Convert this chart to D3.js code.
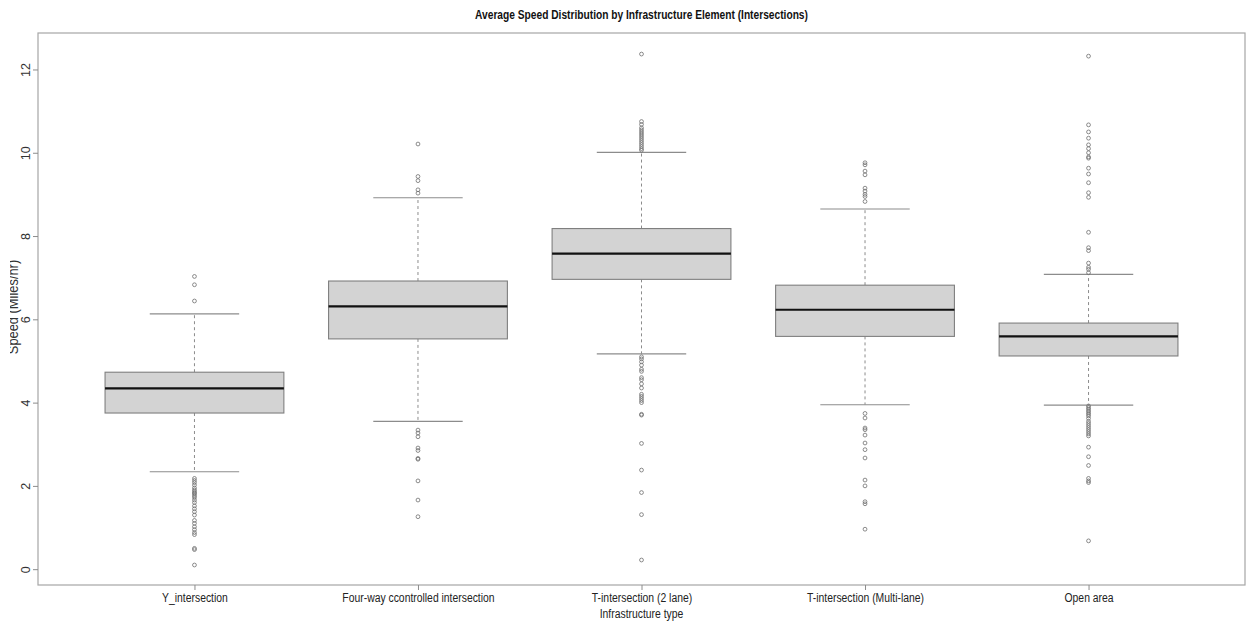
<!DOCTYPE html>
<html>
<head>
<meta charset="utf-8">
<script src="https://cdn.jsdelivr.net/npm/d3@7/dist/d3.min.js"></script>
<style>
  html, body { margin: 0; padding: 0; background: #fff; }
  svg { display: block; }
  text { font-family: "Liberation Sans", Arial, sans-serif; fill: #222; }
</style>
</head>
<body>
<svg id="chart" width="1248" height="628"></svg>
<script>
// Box-plot summary per infrastructure type (speed in miles/hr)
const categories = ["Y_intersection", "Four-way ccontrolled intersection", "T-intersection (2 lane)", "T-intersection (Multi-lane)", "Open area"];
const whiskerLow  = [2.34, 3.55, 5.17, 3.95, 3.94];
const q1          = [3.75, 5.53, 6.96, 5.59, 5.12];
const median      = [4.34, 6.31, 7.58, 6.23, 5.59];
const q3          = [4.73, 6.92, 8.18, 6.82, 5.91];
const whiskerHigh = [6.13, 8.92, 10.01, 8.65, 7.08];

// Points beyond the whiskers
const outliersY = [7.03, 6.83, 6.44, 2.18, 2.13, 2.08, 2.02, 1.95, 1.90, 1.86, 1.83, 1.80, 1.76, 1.72, 1.66, 1.60, 1.52, 1.45, 1.38, 1.30, 1.17, 1.10, 1.02, 0.95, 0.88, 0.83, 0.50, 0.47, 0.10];
const outliersFourWay = [10.21, 9.43, 9.33, 9.11, 9.03, 3.34, 3.27, 3.18, 2.91, 2.85, 2.66, 2.64, 2.12, 1.66, 1.26];
const outliersT2 = [12.37, 10.75, 10.68, 10.60, 10.55, 10.50, 10.45, 10.40, 10.35, 10.30, 10.25, 10.20, 10.15, 10.10, 10.06,
  5.10, 5.05, 4.98, 4.90, 4.80, 4.75, 4.60, 4.55, 4.45, 4.35, 4.20, 4.15, 4.10, 4.05, 4.00, 3.72, 3.70, 3.02, 2.38, 1.84, 1.31, 0.22];
const outliersTMulti = [9.76, 9.71, 9.56, 9.47, 9.15, 9.08, 9.00, 8.95, 8.83, 3.74, 3.63, 3.39, 3.35, 3.22, 3.03, 2.87, 2.67, 2.14, 2.00, 1.62, 1.57, 0.96];
const outliersOpen = [12.32, 10.67, 10.50, 10.35, 10.19, 10.10, 10.00, 9.90, 9.87, 9.63, 9.49, 9.28, 9.04, 8.93, 8.09, 7.72, 7.65, 7.35, 7.25, 7.20, 7.12,
  3.92, 3.88, 3.84, 3.80, 3.76, 3.72, 3.68, 3.62, 3.55, 3.50, 3.45, 3.40, 3.35, 3.30, 3.25, 3.20, 2.93, 2.70, 2.49, 2.18, 2.12, 2.08, 0.68];
const outliers = [outliersY, outliersFourWay, outliersT2, outliersTMulti, outliersOpen];

const yTicks = [0, 2, 4, 6, 8, 10, 12];
const title = "Average Speed Distribution by Infrastructure Element (Intersections)";
const xTitle = "Infrastructure type";
const yTitle = "Speed (Miles/hr)";

const svg = d3.select("#chart");
const plot = { left: 38, right: 1245, top: 33, bottom: 585 };

// Narrow-looking text: squeeze the glyphs horizontally
function condense(sel, factor) {
  sel.each(function () {
    const w = this.getComputedTextLength();
    d3.select(this).attr("textLength", w * factor).attr("lengthAdjust", "spacingAndGlyphs");
  });
}

const x = d3.scaleLinear().domain([0.3, categories.length + 0.7]).range([plot.left, plot.right]);
const y = d3.scaleLinear().domain([-0.38, 12.876]).range([plot.bottom, plot.top]);
const unit = x(1) - x(0);
const boxW = 0.8 * unit;
const capW = 0.4 * unit;

const gray = "#8c8c8c";

// Plot frame
svg.append("rect")
  .attr("x", plot.left).attr("y", plot.top)
  .attr("width", plot.right - plot.left).attr("height", plot.bottom - plot.top)
  .attr("fill", "none").attr("stroke", "#a6a6a6").attr("stroke-width", 1.2);

// Y axis
const yAxis = d3.axisLeft(y).tickValues(yTicks).tickSize(5).tickPadding(3).tickFormat(d3.format("d"));
const yg = svg.append("g").attr("transform", `translate(${plot.left},0)`).call(yAxis);
yg.select(".domain").remove();
yg.selectAll(".tick line").attr("stroke", gray);
yg.selectAll(".tick text")
  .attr("x", null).attr("dy", null)
  .attr("text-anchor", "middle")
  .attr("transform", "translate(-8,0) rotate(-90)")
  .style("font-size", "12.5px").style("fill", "#333");

// X axis
const xAxis = d3.axisBottom(x).tickValues(d3.range(1, categories.length + 1)).tickSize(5).tickPadding(3)
  .tickFormat(d => categories[d - 1]);
const xg = svg.append("g").attr("transform", `translate(0,${plot.bottom})`).call(xAxis);
xg.select(".domain").remove();
xg.selectAll(".tick line").attr("stroke", gray);
xg.selectAll(".tick text").style("font-size", "12.5px").style("fill", "#222").call(condense, 0.83);

// Boxes
const idx = d3.range(categories.length);
const boxes = svg.append("g").selectAll("g").data(idx).join("g");

boxes.append("line")
  .attr("x1", i => x(i + 1)).attr("x2", i => x(i + 1))
  .attr("y1", i => y(q3[i])).attr("y2", i => y(whiskerHigh[i]))
  .attr("stroke", gray).attr("stroke-dasharray", "3,3");
boxes.append("line")
  .attr("x1", i => x(i + 1)).attr("x2", i => x(i + 1))
  .attr("y1", i => y(q1[i])).attr("y2", i => y(whiskerLow[i]))
  .attr("stroke", gray).attr("stroke-dasharray", "3,3");
boxes.append("line")
  .attr("x1", i => x(i + 1) - capW / 2).attr("x2", i => x(i + 1) + capW / 2)
  .attr("y1", i => y(whiskerHigh[i])).attr("y2", i => y(whiskerHigh[i]))
  .attr("stroke", gray).attr("stroke-width", 1.1);
boxes.append("line")
  .attr("x1", i => x(i + 1) - capW / 2).attr("x2", i => x(i + 1) + capW / 2)
  .attr("y1", i => y(whiskerLow[i])).attr("y2", i => y(whiskerLow[i]))
  .attr("stroke", gray).attr("stroke-width", 1.1);
boxes.append("rect")
  .attr("x", i => x(i + 1) - boxW / 2).attr("width", boxW)
  .attr("y", i => y(q3[i])).attr("height", i => y(q1[i]) - y(q3[i]))
  .attr("fill", "#d3d3d3").attr("stroke", "#7f7f7f").attr("stroke-width", 1.1);
boxes.append("line")
  .attr("x1", i => x(i + 1) - boxW / 2).attr("x2", i => x(i + 1) + boxW / 2)
  .attr("y1", i => y(median[i])).attr("y2", i => y(median[i]))
  .attr("stroke", "#111").attr("stroke-width", 2.2);

// Outlier points
boxes.each(function (i) {
  d3.select(this).selectAll("circle").data(outliers[i]).join("circle")
    .attr("cx", x(i + 1)).attr("cy", d => y(d)).attr("r", 1.9)
    .attr("fill", "none").attr("stroke", "#6e6e6e").attr("stroke-width", 0.8);
});

// Titles
svg.append("text")
  .attr("x", (plot.left + plot.right) / 2).attr("y", 19)
  .attr("text-anchor", "middle")
  .style("font-size", "12px").style("font-weight", "bold").style("fill", "#111")
  .text(title)
  .call(condense, 0.85);

svg.append("text")
  .attr("x", (plot.left + plot.right) / 2).attr("y", 618)
  .attr("text-anchor", "middle")
  .style("font-size", "12.5px")
  .text(xTitle)
  .call(condense, 0.83);

// Y title, cut off along its left edge
svg.append("clipPath").attr("id", "ylab-clip")
  .append("rect").attr("x", 10).attr("y", 0).attr("width", 30).attr("height", 628);
svg.append("g")
  .attr("clip-path", "url(#ylab-clip)")
  .append("text")
  .attr("transform", `translate(18,307) rotate(-90)`)
  .attr("text-anchor", "middle")
  .style("font-size", "15.5px").style("fill", "#333")
  .text(yTitle)
  .call(condense, 0.83);
</script>
</body>
</html>
